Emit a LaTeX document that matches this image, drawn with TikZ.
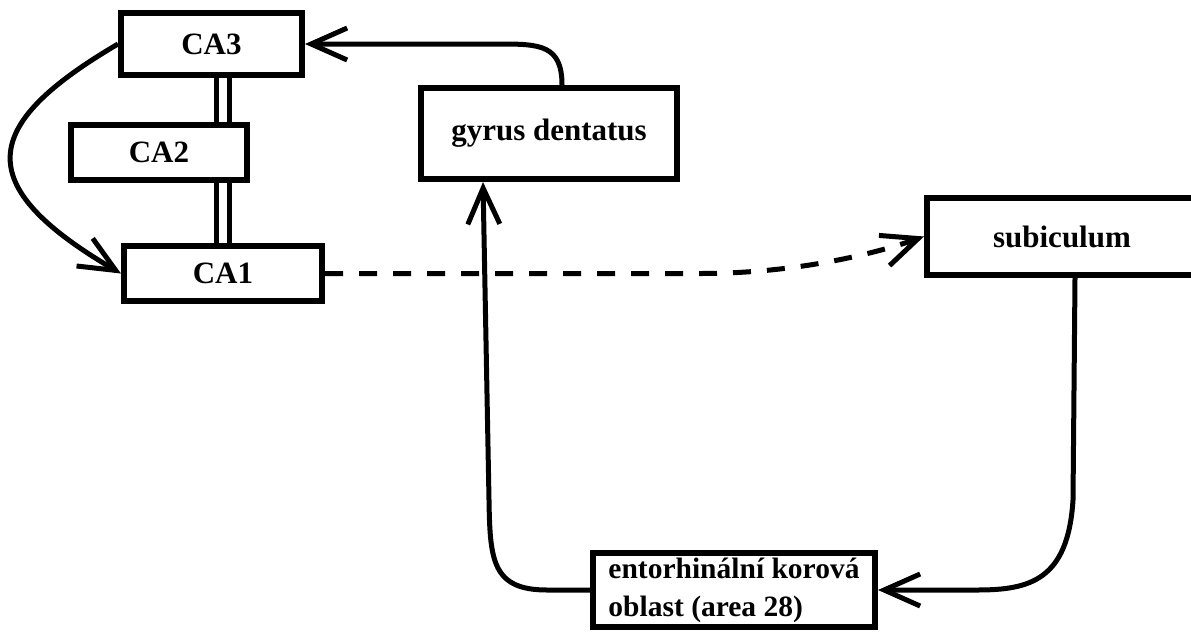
\documentclass[tikz,border=0pt]{standalone}
\usepackage{fontspec}
\setmainfont{Liberation Serif}
\usetikzlibrary{arrows.meta}
\def\arr{-{Straight Barb[length=36pt,width=32pt]}}

\begin{document}
\begin{tikzpicture}[x=1pt,y=-1pt,
    box/.style={draw,line width=6pt,inner sep=0pt,font=\bfseries\fontsize{31}{38}\selectfont},
    conn/.style={line width=5pt}]
\useasboundingbox (0,0) rectangle (1191,633);
\node[box,minimum width=181pt,minimum height=62pt] (ca3) at (211.5,44) {CA3};
\node[box,minimum width=176pt,minimum height=55pt] (ca2) at (159,152.5) {CA2};
\node[box,minimum width=198pt,minimum height=55pt] (ca1) at (223,273.5) {CA1};
\node[box,minimum width=256pt,minimum height=91pt] (gyrus) at (549,133.5) {gyrus dentatus};
\node[box,minimum width=270pt,minimum height=77pt] (subic) at (1062,236.5) {subiculum};
\node[box,font=\bfseries\fontsize{29.5}{38}\selectfont,minimum width=282pt,minimum height=74pt,
    inner xsep=13pt,align=left] (entor) at (734,590)
    {entorhinální korová\\oblast (area 28)};
% CA3 - CA2 - CA1
\draw[line width=5pt,double,double distance=8pt] (ca1.north |- ca3.south) -- (ca1.north |- ca2.north);
\draw[line width=5pt,double,double distance=8pt] (ca1.north |- ca2.south) -- (ca1.north);
\draw[conn,\arr] (ca3.west) .. controls (-20,125) and (-30,185) .. (ca1.west);
\draw[conn,\arr] ([xshift=13pt]gyrus.north) .. controls +(0,-40) and +(40,0) .. (500,44) -- (ca3.east);
\draw[conn,dash pattern=on 18pt off 16pt,\arr] (ca1.east) -- (700,273.5)
    .. controls (800,273.5) and (880,252) .. (subic.west);
\draw[conn,\arr] ([xshift=13pt]subic.south) -- (1073,500) .. controls (1068,580) and (1030,590) .. (977,590) -- (entor.east);
\draw[conn,\arr] (entor.west) -- (547,590) .. controls (492,590) and (490,560) .. (489,500) -- ([xshift=-66pt]gyrus.south);
\end{tikzpicture}
\end{document}
